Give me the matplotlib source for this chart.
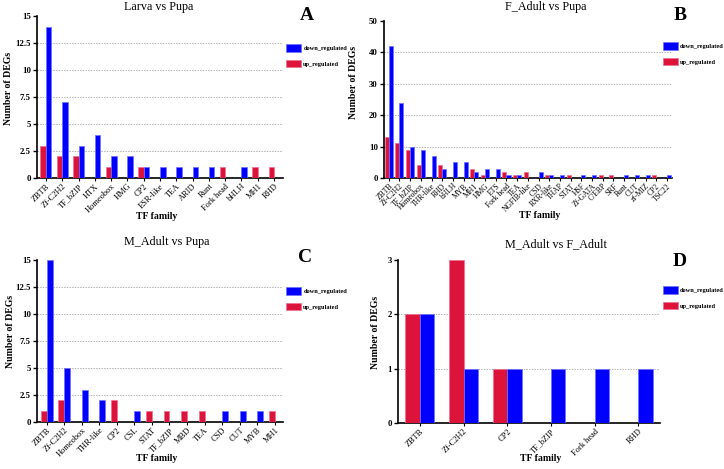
import matplotlib
matplotlib.use("Agg")
import matplotlib.pyplot as plt
from matplotlib.patches import Patch

plt.rcParams['font.family'] = ['Liberation Serif', 'DejaVu Serif']

# ---------------- data ----------------
a_title = "Larva vs Pupa"
a_cats = ["ZBTB", "Zf-C2H2", "TF_bZIP", "HTX", "Homeobox", "HMG", "CP2", "ESR-like",
          "TEA", "ARID", "Runt", "Fork head", "bHLH", "MH1", "RHD"]
a_down = [14, 7, 3, 4, 2, 2, 1, 1, 1, 1, 1, 0, 1, 0, 0]
a_up = [3, 2, 2, 0, 1, 0, 1, 0, 0, 0, 0, 1, 0, 1, 1]
a_ticks = [0, 2.5, 5, 7.5, 10, 12.5, 15]

b_title = "F_Adult vs Pupa"
b_cats = ["ZBTB", "Zf-C2H2", "TF_bZIP", "Homeobox", "THR-like", "RHD", "bHLH", "MYB",
          "MH1", "HMG", "ETS", "Fork head", "TEA", "NGFIB-like", "CSD", "RXR-like",
          "THAP", "STAT", "HSF", "Zf-GATA", "C/EBP", "SRF", "Runt", "CUT", "zf-MIZ",
          "CP2", "TSC22"]
b_down = [42, 24, 10, 9, 7, 3, 5, 5, 2, 3, 3, 1, 1, 0, 2, 1, 1, 0, 1, 1, 0, 0, 1, 1, 1, 0, 1]
b_up = [13, 11, 9, 4, 0, 4, 0, 0, 3, 1, 0, 2, 1, 2, 0, 1, 0, 1, 0, 0, 1, 1, 0, 0, 0, 1, 0]
b_ticks = [0, 10, 20, 30, 40, 50]

c_title = "M_Adult vs Pupa"
c_cats = ["ZBTB", "Zf-C2H2", "Homeobox", "THR-like", "CP2", "CSL", "STAT", "TF_bZIP",
          "MBD", "TEA", "CSD", "CUT", "MYB", "MH1"]
c_down = [15, 5, 3, 2, 0, 1, 0, 0, 0, 0, 1, 1, 1, 0]
c_up = [1, 2, 0, 0, 2, 0, 1, 1, 1, 1, 0, 0, 0, 1]
c_ticks = [0, 2.5, 5, 7.5, 10, 12.5, 15]

d_title = "M_Adult vs F_Adult"
d_cats = ["ZBTB", "Zf-C2H2", "CP2", "TF_bZIP", "Fork head", "RHD"]
d_down = [2, 1, 1, 1, 1, 1]
d_up = [2, 3, 1, 0, 0, 0]
d_ticks = [0, 1, 2, 3]

series_names = ["down_regulated", "up_regulated"]
BLUE = "#0000FF"
RED = "#DC143C"

W, H = 724, 469
fig = plt.figure(figsize=(W / 100, H / 100), dpi=100)


def px_axes(l, t, r, b):
    return fig.add_axes([l / W, 1 - b / H, (r - l) / W, (b - t) / H])


def panel(box, title, cats, down, up, ticks, letter, bw, xlim, title_xy, letter_xy,
          leg_xy, ylab_xy, xlab_xy, xfs=6):
    l, t, r, b = box
    ax = px_axes(l, t, r, b)
    x = list(range(len(cats)))
    ax.bar([i - bw / 2 for i in x], up, width=bw, color=RED, edgecolor="#f07090",
           linewidth=0.5, zorder=3)
    ax.bar([i + bw / 2 for i in x], down, width=bw, color=BLUE, edgecolor="#7070ff",
           linewidth=0.5, zorder=3)
    ax.set_xlim(*xlim)
    ax.set_ylim(ticks[0], ticks[-1])
    ax.set_yticks(ticks)
    ax.set_yticklabels([f"{v:g}" for v in ticks], fontsize=6.3, fontweight="bold")
    for v in ticks[1:-1]:
        ax.axhline(v, color="#a0a0a0", linestyle=(0, (1.6, 1.6)), linewidth=0.6,
                   zorder=1)
    ax.set_xticks(x)
    ax.set_xticklabels(cats, rotation=45, ha="right", rotation_mode="anchor",
                       fontsize=xfs)
    for s in ["top", "right"]:
        ax.spines[s].set_visible(False)
    for s in ["left", "bottom"]:
        ax.spines[s].set_linewidth(1.2)
    ax.tick_params(axis="y", length=3, width=1, pad=1.5)
    ax.tick_params(axis="x", length=2, width=0.8, pad=1)
    fig.text(title_xy[0] / W, 1 - title_xy[1] / H, title, ha="center", va="center",
             fontsize=8.7)
    fig.text(letter_xy[0] / W, 1 - letter_xy[1] / H, letter, ha="center", va="center",
             fontsize=14, fontweight="bold")
    fig.text(ylab_xy[0] / W, 1 - ylab_xy[1] / H, "Number of DEGs", rotation=90,
             ha="center", va="center", fontsize=7, fontweight="bold")
    fig.text(xlab_xy[0] / W, 1 - xlab_xy[1] / H, "TF family", ha="center",
             va="center", fontsize=7, fontweight="bold")
    handles = [Patch(facecolor=BLUE, edgecolor="#7070ff", linewidth=0.5),
               Patch(facecolor=RED, edgecolor="#f07090", linewidth=0.5)]
    fig.legend(handles, series_names, loc="upper left",
               bbox_to_anchor=(leg_xy[0] / W, 1 - leg_xy[1] / H), frameon=False,
               prop={"size": 4.6, "weight": "bold"}, handlelength=2.4,
               handleheight=1.45, labelspacing=1.3, handletextpad=0.3, borderpad=0,
               borderaxespad=0)
    return ax


panel((37, 16, 283, 178), a_title, a_cats, a_down, a_up, a_ticks, "A", 0.34,
      (-0.55, 14.55), (159, 7), (307, 15), (286, 44), (9, 88), (157, 216))
panel((384, 21, 672, 178), b_title, b_cats, b_down, b_up, b_ticks, "B", 0.38,
      (-0.44, 26.47), (546, 7), (680, 15), (663, 42), (353, 82), (540, 215), xfs=5.5)
panel((37, 260, 283, 422), c_title, c_cats, c_down, c_up, c_ticks, "C", 0.34,
      (-0.55, 13.47), (167, 242), (305, 258), (286, 287), (11, 331), (157, 458))
panel((398, 260, 660, 423), d_title, d_cats, d_down, d_up, d_ticks, "D", 0.33,
      (-0.5, 5.5), (556, 244), (680, 262), (663, 286), (375, 332), (541, 458))

fig.savefig("out.png", dpi=100)
